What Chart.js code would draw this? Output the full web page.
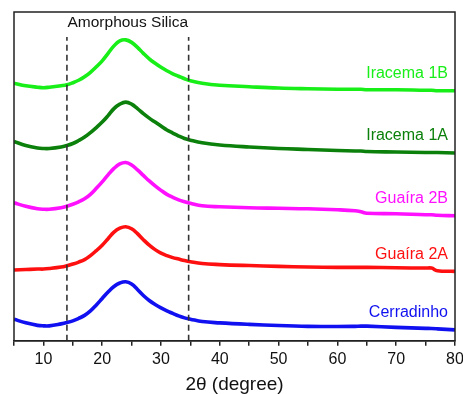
<!DOCTYPE html>
<html>
<head>
<meta charset="utf-8">
<script src="https://cdn.jsdelivr.net/npm/chart.js@4/dist/chart.umd.min.js"></script>
<style>
  html, body { margin: 0; padding: 0; background: #ffffff; }
  #wrap { width: 463px; height: 394px; }
</style>
</head>
<body>
<div id="wrap"><canvas id="c" width="463" height="394"></canvas></div>
<script>
// 2θ positions (degree)
const twoTheta = [5,7,9,10,11,13,14,15,16,17,18,19,20,21,22,23,24,25,26,27,28,29,30,31,32,33,34,35,37,40,45,50,55,60,63,64,65,70,75,76,77,80];

// Stacked intensities (a.u., offset for display)
const iracema1B = [258.5,256,254.5,254,254.5,256,257,259,261.5,265,269.5,275,281,288.5,296,301,302,299.5,294.5,288.5,283,278.5,274.5,271,268,265.5,263,261,258.5,256.5,255,253.7,253,252.5,252.5,252.5,252,252,251.5,251.5,251,251];
const iracema1A = [200,196,193.5,193,193,194.5,196,198,201,204.5,209,214,219.5,226,233,237.5,239.5,237.5,233,228,223.5,219.5,215.5,211.5,208.5,205.5,203,201.3,198.7,196.5,194.5,193,192,191,190.5,190.5,190,189.5,189,189,189,188.5];
const guaira2B = [138.5,135,132.5,132,132,133.5,135,137,139.5,142.5,147,153,159.5,166.5,173,177.5,179,176.5,171.5,166,160.5,155.5,151,147,144,141.5,139.5,138,135.5,134.5,133.5,133,132.5,131.5,130.5,129.5,128,127.5,126.5,126.5,126,125.5];
const guaira2A = [71,71.5,72,72,72.5,74,75.3,77,79,81.5,85.5,90.5,96,102.5,109,113,114.5,112.5,107.5,101.5,96,91.5,88,85.5,83.5,82,80.5,79.3,77.5,76.5,75.5,74.7,74,73.7,73.7,73.7,73.7,73.3,73,73,70.3,69.7];
const cerradinho = [21.7,18,15.5,15,15,17,18.3,20,22.5,25.5,30,36,42.5,49,54.5,58,59.3,57,51.5,45.5,40.5,36.5,33,30,27.5,25,23,21.7,19.3,18,16.5,15.3,14.5,14.3,14.5,14.7,14.7,13.5,12.5,12.3,12,11];

const seriesNames = ['Iracema 1B','Iracema 1A','Guaíra 2B','Guaíra 2A','Cerradinho'];
const seriesColors = ['#18ee18','#0b800b','#ff10ff','#ff1010','#1010f0'];
const seriesValues = [iracema1B, iracema1A, guaira2B, guaira2A, cerradinho];

// Amorphous silica region bounds (degree) and marker height
const silicaBounds = [14, 34.7];
const silicaTop = 305;
const regionLabel = 'Amorphous Silica';
const xTicksMin = 5, xTicksMax = 80;
const xTitle = '2θ (degree)';

const FONT = "'Liberation Sans', Arial, sans-serif";

const datasets = [];
silicaBounds.forEach(b => {
  datasets.push({
    data: [{x: b, y: 0}, {x: b, y: silicaTop}],
    borderColor: '#333333', borderWidth: 1.6, borderDash: [6, 4],
    pointRadius: 0, fill: false, tension: 0
  });
});
seriesValues.forEach((vals, i) => {
  datasets.push({
    label: seriesNames[i],
    data: twoTheta.map((x, j) => ({x: x, y: vals[j]})),
    borderColor: seriesColors[i], borderWidth: 3.6,
    pointRadius: 0, fill: false, tension: 0.4
  });
});

const overlay = {
  id: 'overlay',
  afterDraw(chart) {
    const ctx = chart.ctx, a = chart.chartArea;
    const xs = chart.scales.x, ys = chart.scales.y;
    ctx.save();
    // frame
    ctx.strokeStyle = '#222222';
    ctx.lineWidth = 1.5;
    ctx.strokeRect(a.left, a.top, a.right - a.left, a.bottom - a.top);
    // series labels
    ctx.font = '16px ' + FONT;
    ctx.textAlign = 'right';
    ctx.textBaseline = 'middle';
    seriesValues.forEach((vals, i) => {
      const yPix = ys.getPixelForValue(vals[vals.length - 1]) - 17;
      ctx.fillStyle = seriesColors[i];
      ctx.fillText(seriesNames[i], a.right - 7, yPix);
    });
    // region label
    ctx.fillStyle = '#111111';
    ctx.font = '15.5px ' + FONT;
    ctx.textAlign = 'center';
    const mid = (silicaBounds[0] + silicaBounds[1]) / 2;
    ctx.fillText(regionLabel, xs.getPixelForValue(mid), a.top + 11);
    ctx.restore();
  }
};

new Chart(document.getElementById('c'), {
  type: 'line',
  data: { datasets: datasets },
  options: {
    responsive: false,
    animation: false,
    devicePixelRatio: 1,
    layout: { padding: { left: 14, right: 8, top: 12, bottom: 0 } },
    plugins: { legend: { display: false }, tooltip: { enabled: false } },
    scales: {
      x: {
        type: 'linear', min: xTicksMin, max: xTicksMax,
        afterFit: s => { s.paddingRight = 0; s.paddingLeft = 0; },
        border: { display: true, color: '#222222', width: 1.5 },
        grid: { drawOnChartArea: false, drawTicks: true, tickLength: 5, color: '#222222', lineWidth: 1.5 },
        ticks: {
          stepSize: 5, autoSkip: false, maxRotation: 0, padding: 4,
          color: '#111111', font: { family: FONT, size: 16 },
          callback: v => (v % 10 === 0 ? String(v) : '')
        },
        title: {
          display: true, text: xTitle, color: '#111111',
          font: { family: FONT, size: 19, lineHeight: 1.0 },
          padding: { top: 2, bottom: 0 }
        }
      },
      y: { type: 'linear', min: 0, max: 330, display: false }
    }
  },
  plugins: [overlay]
});
</script>
</body>
</html>
